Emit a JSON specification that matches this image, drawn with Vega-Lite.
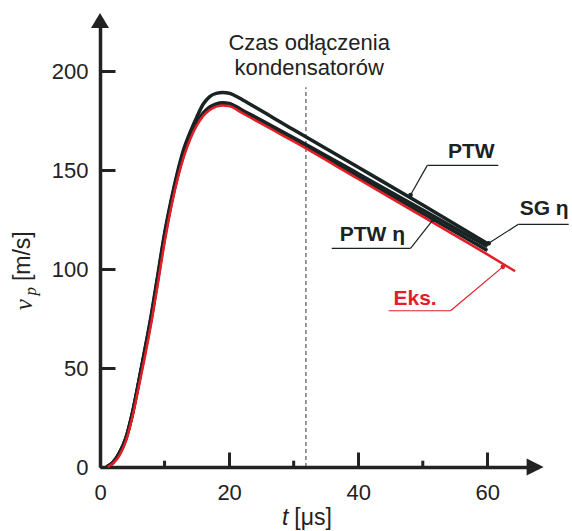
{
  "$schema": "https://vega.github.io/schema/vega-lite/v6.json",
  "width": 439,
  "height": 447,
  "autosize": {"type": "none"},
  "padding": {"left": 100, "top": 20, "right": 33, "bottom": 64},
  "background": "white",
  "config": {"view": {"stroke": null}, "font": "Liberation Sans"},
  "datasets": {
    "curves": [
      {"series": "PTW", "t": 1, "v": 0}, {"series": "PTW", "t": 2, "v": 2.3}, {"series": "PTW", "t": 3, "v": 7}, {"series": "PTW", "t": 4, "v": 14.5}, {"series": "PTW", "t": 5, "v": 27}, {"series": "PTW", "t": 6, "v": 43}, {"series": "PTW", "t": 7, "v": 60}, {"series": "PTW", "t": 8, "v": 78}, {"series": "PTW", "t": 9, "v": 98}, {"series": "PTW", "t": 10, "v": 118}, {"series": "PTW", "t": 11, "v": 134.5}, {"series": "PTW", "t": 12, "v": 149}, {"series": "PTW", "t": 13, "v": 161}, {"series": "PTW", "t": 14, "v": 169.5}, {"series": "PTW", "t": 15, "v": 177}, {"series": "PTW", "t": 16, "v": 183.5}, {"series": "PTW", "t": 17, "v": 187.3}, {"series": "PTW", "t": 18, "v": 188.9}, {"series": "PTW", "t": 19, "v": 189.3}, {"series": "PTW", "t": 20, "v": 189}, {"series": "PTW", "t": 21, "v": 187.6}, {"series": "PTW", "t": 22, "v": 185.8}, {"series": "PTW", "t": 24, "v": 182}, {"series": "PTW", "t": 26, "v": 178.2}, {"series": "PTW", "t": 28, "v": 174.3}, {"series": "PTW", "t": 30, "v": 170.5}, {"series": "PTW", "t": 40, "v": 151.5}, {"series": "PTW", "t": 50, "v": 132.5}, {"series": "PTW", "t": 60, "v": 113},
      {"series": "SG η", "t": 1, "v": 0}, {"series": "SG η", "t": 2, "v": 2.3}, {"series": "SG η", "t": 3, "v": 7}, {"series": "SG η", "t": 4, "v": 14.5}, {"series": "SG η", "t": 5, "v": 27}, {"series": "SG η", "t": 6, "v": 43}, {"series": "SG η", "t": 7, "v": 60}, {"series": "SG η", "t": 8, "v": 77}, {"series": "SG η", "t": 9, "v": 97}, {"series": "SG η", "t": 10, "v": 117}, {"series": "SG η", "t": 11, "v": 133.5}, {"series": "SG η", "t": 12, "v": 148}, {"series": "SG η", "t": 13, "v": 159.5}, {"series": "SG η", "t": 14, "v": 168}, {"series": "SG η", "t": 15, "v": 174.5}, {"series": "SG η", "t": 16, "v": 179}, {"series": "SG η", "t": 17, "v": 182}, {"series": "SG η", "t": 18, "v": 183.6}, {"series": "SG η", "t": 19, "v": 184.1}, {"series": "SG η", "t": 20, "v": 183.8}, {"series": "SG η", "t": 22, "v": 180.5}, {"series": "SG η", "t": 24, "v": 177}, {"series": "SG η", "t": 26, "v": 173.5}, {"series": "SG η", "t": 28, "v": 170}, {"series": "SG η", "t": 30, "v": 166.5}, {"series": "SG η", "t": 40, "v": 148.3}, {"series": "SG η", "t": 50, "v": 129.9}, {"series": "SG η", "t": 60, "v": 111.5},
      {"series": "PTW η", "t": 1, "v": 0}, {"series": "PTW η", "t": 2, "v": 2.2}, {"series": "PTW η", "t": 3, "v": 6.8}, {"series": "PTW η", "t": 4, "v": 14}, {"series": "PTW η", "t": 5, "v": 26.5}, {"series": "PTW η", "t": 6, "v": 42.5}, {"series": "PTW η", "t": 7, "v": 59}, {"series": "PTW η", "t": 8, "v": 76}, {"series": "PTW η", "t": 9, "v": 96}, {"series": "PTW η", "t": 10, "v": 116}, {"series": "PTW η", "t": 11, "v": 132.8}, {"series": "PTW η", "t": 12, "v": 147}, {"series": "PTW η", "t": 13, "v": 158.5}, {"series": "PTW η", "t": 14, "v": 167.2}, {"series": "PTW η", "t": 15, "v": 173.8}, {"series": "PTW η", "t": 16, "v": 178.4}, {"series": "PTW η", "t": 17, "v": 181.4}, {"series": "PTW η", "t": 18, "v": 183}, {"series": "PTW η", "t": 19, "v": 183.5}, {"series": "PTW η", "t": 20, "v": 183.2}, {"series": "PTW η", "t": 22, "v": 180}, {"series": "PTW η", "t": 24, "v": 176.4}, {"series": "PTW η", "t": 26, "v": 172.8}, {"series": "PTW η", "t": 28, "v": 169.2}, {"series": "PTW η", "t": 30, "v": 165.6}, {"series": "PTW η", "t": 40, "v": 146.9}, {"series": "PTW η", "t": 50, "v": 128.2}, {"series": "PTW η", "t": 60, "v": 109.5}
    ],
    "eks": [
      {"series": "Eks.", "t": 1.2, "v": 0}, {"series": "Eks.", "t": 2, "v": 1.8}, {"series": "Eks.", "t": 3, "v": 5.8}, {"series": "Eks.", "t": 4, "v": 13}, {"series": "Eks.", "t": 5, "v": 25}, {"series": "Eks.", "t": 6, "v": 40.5}, {"series": "Eks.", "t": 7, "v": 56.5}, {"series": "Eks.", "t": 8, "v": 74}, {"series": "Eks.", "t": 9, "v": 93.5}, {"series": "Eks.", "t": 10, "v": 113.5}, {"series": "Eks.", "t": 11, "v": 131}, {"series": "Eks.", "t": 12, "v": 145.5}, {"series": "Eks.", "t": 13, "v": 157}, {"series": "Eks.", "t": 14, "v": 166}, {"series": "Eks.", "t": 15, "v": 172.7}, {"series": "Eks.", "t": 16, "v": 177.5}, {"series": "Eks.", "t": 17, "v": 180.5}, {"series": "Eks.", "t": 18, "v": 182.2}, {"series": "Eks.", "t": 19, "v": 182.8}, {"series": "Eks.", "t": 20, "v": 182.5}, {"series": "Eks.", "t": 22, "v": 179}, {"series": "Eks.", "t": 24, "v": 175.4}, {"series": "Eks.", "t": 26, "v": 171.8}, {"series": "Eks.", "t": 28, "v": 168.2}, {"series": "Eks.", "t": 30, "v": 164.6}, {"series": "Eks.", "t": 40, "v": 145.6}, {"series": "Eks.", "t": 50, "v": 126.6}, {"series": "Eks.", "t": 60, "v": 107.5}, {"series": "Eks.", "t": 64.3, "v": 99}
    ],
    "underlines": [
      {"series": "PTW", "t": 50.7, "v": 152.5, "t2": 61.7, "v2": 152.5},
      {"series": "PTW", "t": 50.7, "v": 152.5, "t2": 48.1, "v2": 137.5},
      {"series": "SG η", "t": 64.8, "v": 122.7, "t2": 72.6, "v2": 122.7},
      {"series": "SG η", "t": 64.8, "v": 122.7, "t2": 60.2, "v2": 113.1},
      {"series": "PTW η", "t": 35.9, "v": 110.5, "t2": 48.1, "v2": 110.5},
      {"series": "PTW η", "t": 48.1, "v": 110.5, "t2": 51.6, "v2": 125.1},
      {"series": "Eks.", "t": 44.7, "v": 79, "t2": 54.3, "v2": 79},
      {"series": "Eks.", "t": 54.3, "v": 79, "t2": 62.4, "v2": 101.2}
    ],
    "dots": [
      {"series": "PTW", "t": 48.1, "v": 137.5},
      {"series": "SG η", "t": 60.2, "v": 113.1},
      {"series": "PTW η", "t": 51.6, "v": 125.1},
      {"series": "Eks.", "t": 62.4, "v": 101.2}
    ],
    "labels": [
      {"series": "PTW", "label": "PTW", "t": 57.5, "v": 156},
      {"series": "SG η", "label": "SG η", "t": 68.8, "v": 127.3},
      {"series": "PTW η", "label": "PTW η", "t": 42.2, "v": 114.3},
      {"series": "Eks.", "label": "Eks.", "t": 48.8, "v": 81.8}
    ]
  },
  "encoding": {
    "x": {
      "field": "t", "type": "quantitative",
      "scale": {"domain": [0, 68], "nice": false, "zero": false},
      "axis": {"values": [0, 20, 40, 60], "title": null, "grid": false, "tickSize": -15, "tickWidth": 3, "tickColor": "#222", "domainWidth": 3.5, "domainColor": "#222", "labelFontSize": 22, "labelColor": "#222", "labelFont": "Liberation Sans", "labelPadding": 30, "labelFlush": false}
    },
    "y": {
      "field": "v", "type": "quantitative",
      "scale": {"domain": [0, 226], "nice": false, "zero": false},
      "axis": {"values": [0, 50, 100, 150, 200], "title": null, "grid": false, "tickSize": -15, "tickWidth": 3, "tickColor": "#222", "domainWidth": 3.5, "domainColor": "#222", "labelFontSize": 22, "labelColor": "#222", "labelFont": "Liberation Sans", "labelPadding": 27, "labelFlush": false}
    }
  },
  "layer": [
    {
      "data": {"values": [{"t": 31.9, "v": 0, "v2": 192}]},
      "mark": {"type": "rule", "strokeDash": [4, 3], "strokeWidth": 1, "color": "#333"},
      "encoding": {"y2": {"field": "v2"}}
    },
    {
      "data": {"values": [{"t": 10, "v": 0, "v2": 3.2}, {"t": 30, "v": 0, "v2": 3.2}, {"t": 50, "v": 0, "v2": 3.2}]},
      "mark": {"type": "rule", "strokeWidth": 3, "color": "#222"},
      "encoding": {"y2": {"field": "v2"}}
    },
    {
      "data": {"name": "curves"},
      "mark": {"type": "line", "strokeWidth": 3.5, "interpolate": "monotone"},
      "encoding": {
        "detail": {"field": "series"},
        "color": {"field": "series", "type": "nominal", "scale": {"domain": ["PTW", "SG η", "PTW η", "Eks."], "range": ["#1a2323", "#1a2323", "#1a2323", "#e31e26"]}, "legend": null}
      }
    },
    {
      "data": {"name": "eks"},
      "mark": {"type": "line", "strokeWidth": 2.5, "interpolate": "monotone"},
      "encoding": {
        "color": {"field": "series", "type": "nominal", "legend": null}
      }
    },
    {
      "data": {"name": "underlines"},
      "mark": {"type": "rule", "strokeWidth": 1.2},
      "encoding": {
        "x2": {"field": "t2"},
        "y2": {"field": "v2"},
        "color": {"field": "series", "type": "nominal", "legend": null}
      }
    },
    {
      "data": {"name": "dots"},
      "mark": {"type": "point", "filled": true, "size": 22, "opacity": 1},
      "encoding": {
        "color": {"field": "series", "type": "nominal", "legend": null}
      }
    },
    {
      "data": {"name": "labels"},
      "mark": {"type": "text", "font": "Liberation Sans", "fontWeight": "bold", "fontSize": 21, "align": "center", "baseline": "alphabetic"},
      "encoding": {
        "text": {"field": "label"},
        "color": {"field": "series", "type": "nominal", "legend": null}
      }
    },
    {
      "data": {"values": [{"t": 32.4, "v": 210.6, "label": ["Czas odłączenia", "kondensatorów"]}]},
      "mark": {"type": "text", "font": "Liberation Sans", "fontSize": 22, "lineHeight": 25, "align": "center", "baseline": "alphabetic", "color": "#222"},
      "encoding": {"text": {"field": "label"}}
    },
    {
      "data": {"values": [{"t": 28.7, "v": -29.2, "label": "t"}]},
      "mark": {"type": "text", "font": "Liberation Sans", "fontSize": 23, "fontStyle": "italic", "align": "center", "baseline": "alphabetic", "color": "#222"},
      "encoding": {"text": {"field": "label"}}
    },
    {
      "data": {"values": [{"t": 33.0, "v": -29.2, "label": "[μs]"}]},
      "mark": {"type": "text", "font": "Liberation Sans", "fontSize": 23, "align": "center", "baseline": "alphabetic", "color": "#222"},
      "encoding": {"text": {"field": "label"}}
    },
    {
      "data": {"values": [{"t": -10.85, "v": 106.6, "label": "[m/s]"}]},
      "mark": {"type": "text", "font": "Liberation Sans", "fontSize": 23, "angle": 270, "align": "center", "baseline": "alphabetic", "color": "#222"},
      "encoding": {"text": {"field": "label"}}
    },
    {
      "data": {"values": [{"t": -10.5, "v": 82, "label": "ν"}]},
      "mark": {"type": "text", "font": "Liberation Serif", "fontSize": 25, "fontStyle": "italic", "angle": 270, "align": "center", "baseline": "alphabetic", "color": "#222"},
      "encoding": {"text": {"field": "label"}}
    },
    {
      "data": {"values": [{"t": -9.9, "v": 88.9, "label": "p"}]},
      "mark": {"type": "text", "font": "Liberation Serif", "fontSize": 17, "fontStyle": "italic", "angle": 270, "align": "center", "baseline": "alphabetic", "color": "#222"},
      "encoding": {"text": {"field": "label"}}
    },
    {
      "data": {"values": [{"t": 0, "v": 225.7}]},
      "mark": {"type": "point", "shape": "M-1,0.83L0,-0.83L1,0.83Z", "size": 324, "filled": true, "color": "#222", "opacity": 1, "strokeWidth": 0}
    },
    {
      "data": {"values": [{"t": 67.4, "v": 0}]},
      "mark": {"type": "point", "shape": "M-1,-1L1,0L-1,1Z", "size": 289, "filled": true, "color": "#222", "opacity": 1, "strokeWidth": 0}
    }
  ]
}
